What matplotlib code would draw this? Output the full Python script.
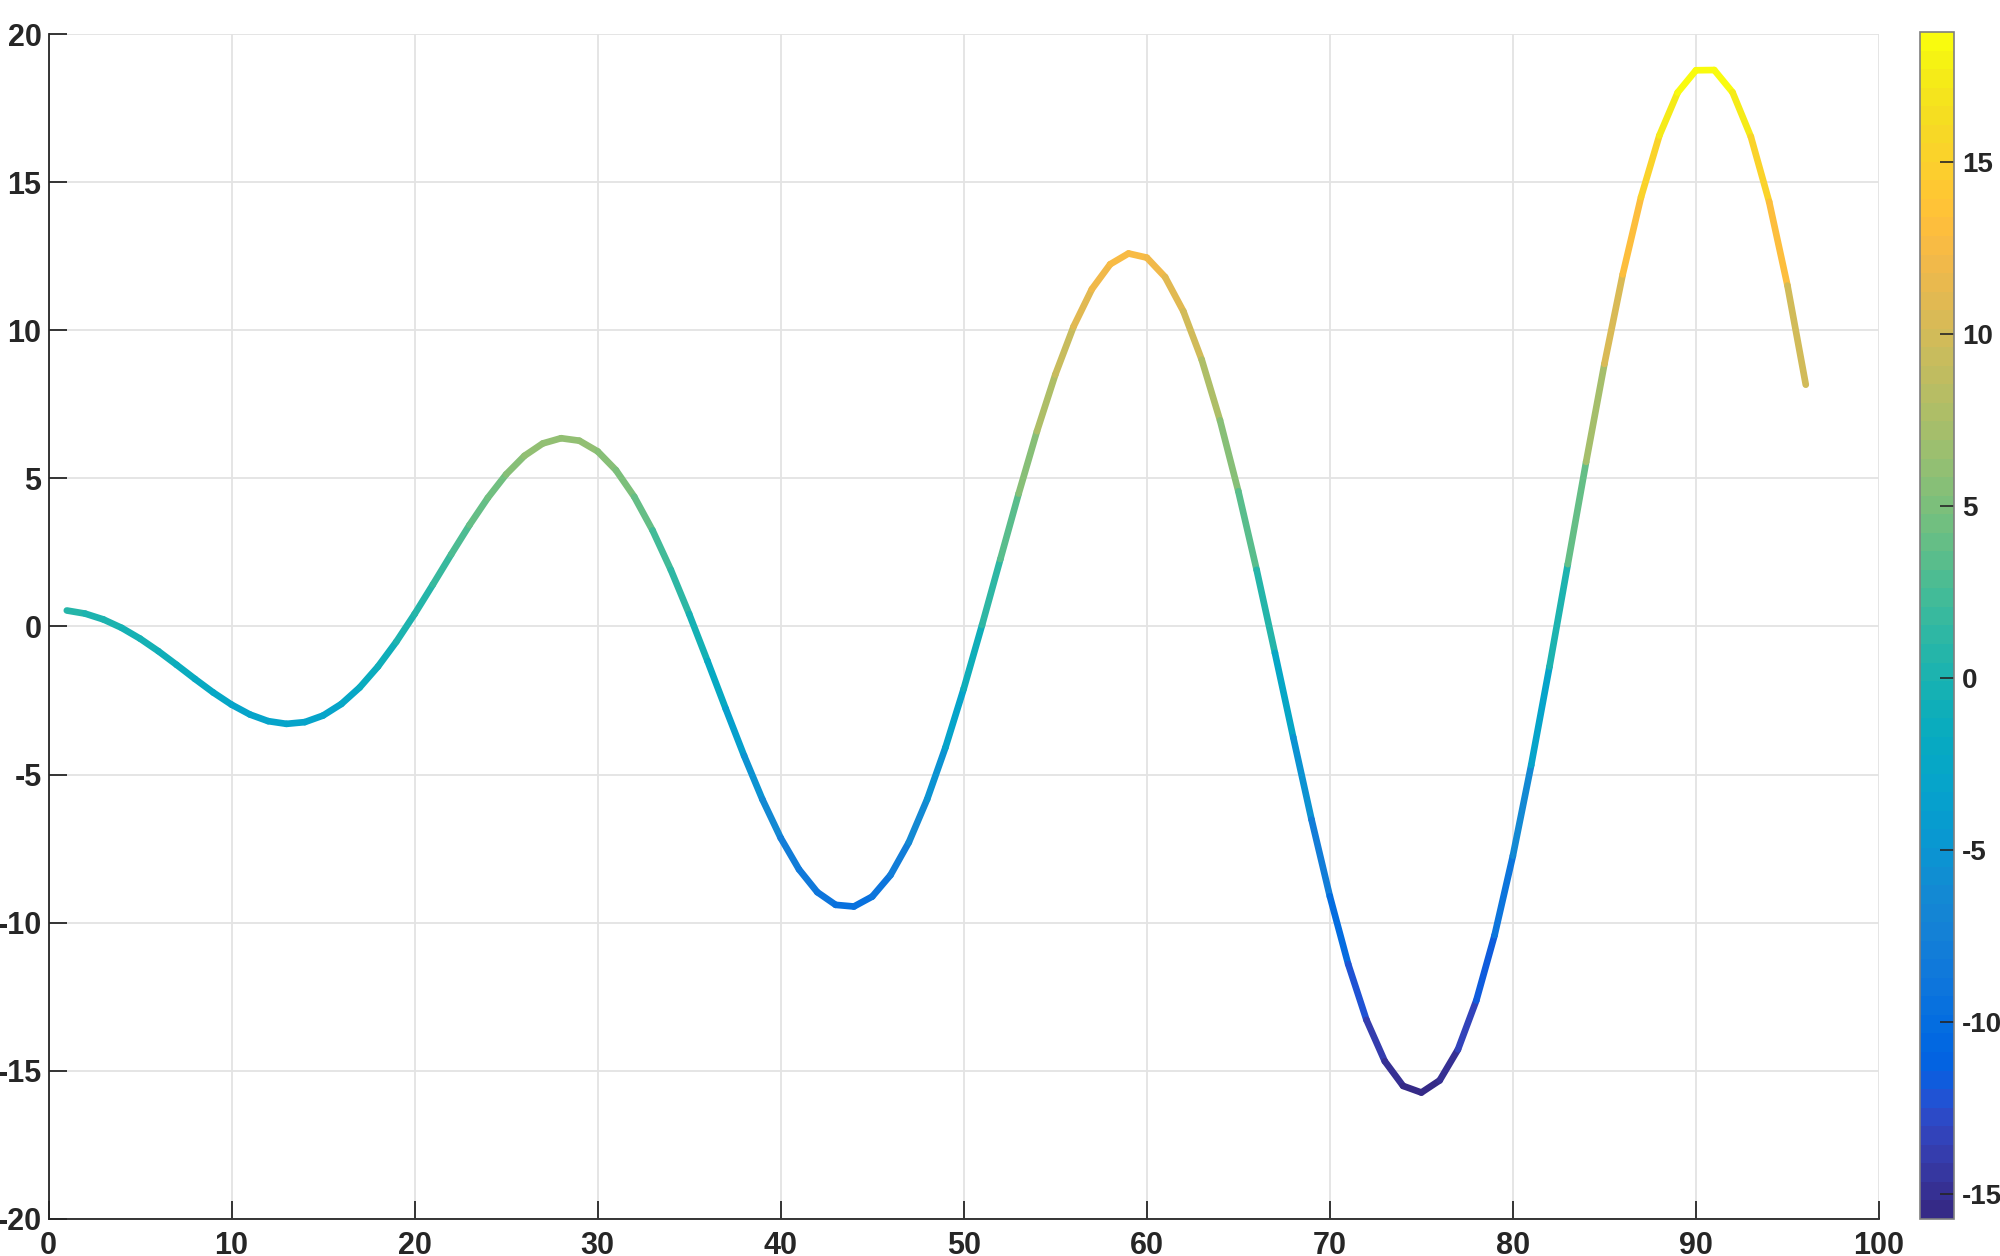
import matplotlib
matplotlib.use('Agg')
import matplotlib.pyplot as plt
from matplotlib.collections import LineCollection
from matplotlib.colors import ListedColormap, Normalize
import matplotlib.cm as cm
import numpy as np

# sample index along the curve
idx = list(range(1, 97))
# values
vals = [
	0.540, 0.435, 0.238, -0.047, -0.409, -0.832, -1.295, -1.770, -2.228, -2.638,
	-2.970, -3.195, -3.287, -3.228, -3.006, -2.615, -2.059, -1.352, -0.516, 0.420,
	1.418, 2.436, 3.427, 4.343, 5.136, 5.761, 6.179, 6.356, 6.272, 5.912,
	5.277, 4.380, 3.245, 1.910, 0.421, -1.164, -2.781, -4.362, -5.837, -7.138,
	-8.200, -8.969, -9.397, -9.453, -9.118, -8.391, -7.287, -5.834, -4.085, -2.099,
	0.049, 2.274, 4.486, 6.592, 8.501, 10.126, 11.390, 12.229, 12.593, 12.452,
	11.797, 10.638, 9.007, 6.959, 4.565, 1.914, -0.892, -3.741, -6.519, -9.107,
	-11.395, -13.281, -14.675, -15.509, -15.733, -15.323, -14.278, -12.627, -10.422, -7.739,
	-4.678, -1.353, 2.104, 5.557, 8.864, 11.886, 14.494, 16.572, 18.024, 18.777,
	18.785, 18.033, 16.534, 14.335, 11.510, 8.162,
]
xticks = [0, 10, 20, 30, 40, 50, 60, 70, 80, 90, 100]
yticks = [-20, -15, -10, -5, 0, 5, 10, 15, 20]
cticks = [-15, -10, -5, 0, 5, 10, 15]

# parula (64)
parula = [
	[0.2081, 0.1663, 0.5292], [0.2116, 0.1898, 0.5777], [0.2123, 0.2138, 0.6270], [0.2081, 0.2386, 0.6771],
	[0.1959, 0.2645, 0.7279], [0.1707, 0.2919, 0.7792], [0.1253, 0.3242, 0.8303], [0.0591, 0.3598, 0.8683],
	[0.0117, 0.3875, 0.8820], [0.0060, 0.4086, 0.8828], [0.0165, 0.4266, 0.8786], [0.0329, 0.4430, 0.8720],
	[0.0498, 0.4586, 0.8641], [0.0629, 0.4737, 0.8554], [0.0723, 0.4887, 0.8467], [0.0779, 0.5040, 0.8384],
	[0.0793, 0.5200, 0.8312], [0.0749, 0.5375, 0.8263], [0.0641, 0.5570, 0.8240], [0.0488, 0.5772, 0.8228],
	[0.0343, 0.5966, 0.8199], [0.0265, 0.6137, 0.8135], [0.0239, 0.6287, 0.8038], [0.0231, 0.6418, 0.7913],
	[0.0228, 0.6535, 0.7768], [0.0267, 0.6642, 0.7607], [0.0384, 0.6743, 0.7436], [0.0590, 0.6838, 0.7254],
	[0.0843, 0.6928, 0.7062], [0.1133, 0.7015, 0.6859], [0.1453, 0.7098, 0.6646], [0.1801, 0.7177, 0.6424],
	[0.2178, 0.7250, 0.6193], [0.2586, 0.7317, 0.5954], [0.3022, 0.7376, 0.5712], [0.3482, 0.7424, 0.5473],
	[0.3953, 0.7459, 0.5244], [0.4420, 0.7481, 0.5033], [0.4871, 0.7491, 0.4840], [0.5300, 0.7491, 0.4661],
	[0.5709, 0.7485, 0.4494], [0.6099, 0.7473, 0.4337], [0.6473, 0.7456, 0.4188], [0.6834, 0.7435, 0.4044],
	[0.7184, 0.7411, 0.3905], [0.7525, 0.7384, 0.3768], [0.7858, 0.7356, 0.3633], [0.8185, 0.7327, 0.3498],
	[0.8507, 0.7299, 0.3360], [0.8824, 0.7274, 0.3217], [0.9139, 0.7258, 0.3063], [0.9450, 0.7261, 0.2886],
	[0.9739, 0.7314, 0.2666], [0.9938, 0.7455, 0.2403], [0.9990, 0.7653, 0.2164], [0.9955, 0.7861, 0.1967],
	[0.9880, 0.8066, 0.1794], [0.9789, 0.8271, 0.1633], [0.9697, 0.8481, 0.1475], [0.9626, 0.8705, 0.1309],
	[0.9589, 0.8949, 0.1132], [0.9598, 0.9218, 0.0948], [0.9661, 0.9514, 0.0755], [0.9763, 0.9831, 0.0538],
]
cmap = ListedColormap(parula)

plt.rcParams['font.family'] = ['Liberation Sans', 'DejaVu Sans']
plt.rcParams['font.weight'] = 'bold'
plt.rcParams['axes.unicode_minus'] = False
dark = '#262626'

fig = plt.figure(figsize=(20, 12.56), dpi=100)
ax = fig.add_axes([0.02425, 0.0295, 0.91525, 0.9434])

x = np.array(idx, dtype=float)
y = np.array(vals)
pts = np.column_stack([x, y]).reshape(-1, 1, 2)
segs = np.concatenate([pts[:-1], pts[1:]], axis=1)
norm = Normalize(vmin=y.min(), vmax=y.max())
lc = LineCollection(segs, cmap=cmap, norm=norm, linewidths=4.8, capstyle='round', joinstyle='round')
lc.set_array((y[:-1] + y[1:]) / 2)
ax.add_collection(lc)

ax.set_xlim(0, 100)
ax.set_ylim(-20, 20)
ax.set_xticks(xticks)
ax.set_yticks(yticks)
ax.grid(True, color='#e3e3e3', linewidth=1.3)
ax.set_axisbelow(True)
for s in ['top', 'right']:
	ax.spines[s].set_visible(False)
for s in ['left', 'bottom']:
	ax.spines[s].set_color(dark)
	ax.spines[s].set_linewidth(1.3)
ax.tick_params(direction='in', length=13, width=1.3, color=dark, labelcolor=dark, labelsize=22)
ax.tick_params(axis='x', pad=9)
ax.tick_params(axis='y', pad=5)

cax = fig.add_axes([0.96, 0.0295, 0.017, 0.9450])
sm = cm.ScalarMappable(norm=norm, cmap=cmap)
cb = fig.colorbar(sm, cax=cax, ticks=cticks)
cb.outline.set_edgecolor('#7f7f7f')
cb.outline.set_linewidth(1.2)
cax.tick_params(direction='in', length=10, width=1.2, color=dark, labelcolor=dark, labelsize=20, pad=6)

fig.savefig('out.png', dpi=100)
